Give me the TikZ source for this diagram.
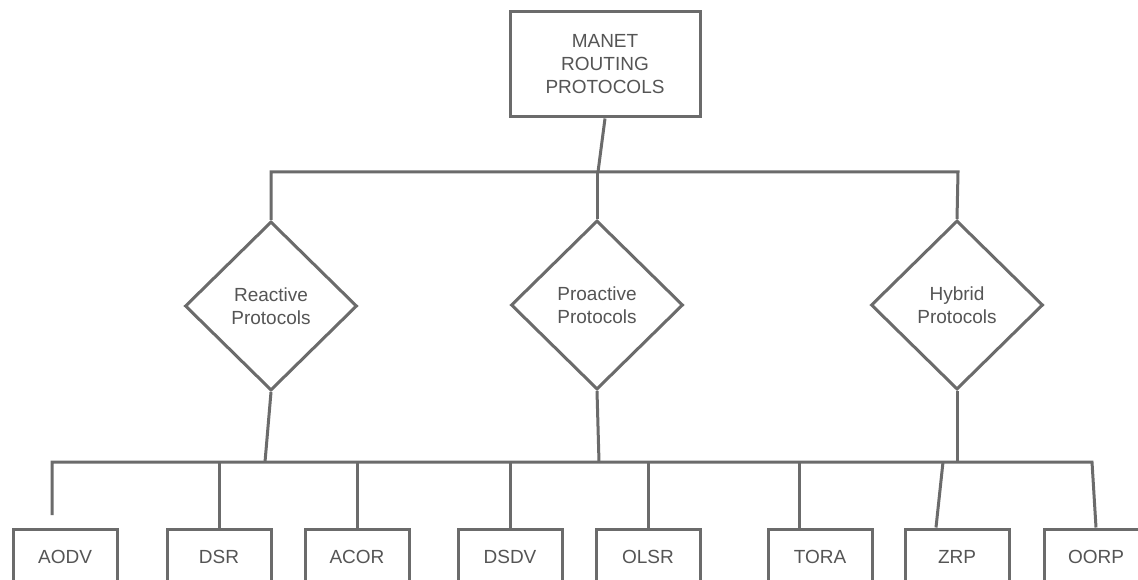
\documentclass[tikz,border=0pt]{standalone}
\usepackage{fontspec}
\setmainfont{Liberation Sans}
\usetikzlibrary{shapes.geometric}
\definecolor{ln}{HTML}{6B6B6B}
\definecolor{tx}{HTML}{555555}
\begin{document}
\begin{tikzpicture}[x=1pt,y=-1pt,
  lbl/.style={font=\fontsize{19}{23}\selectfont, text=tx, align=center},
  boxnode/.style={draw=ln, line width=3pt, fill=white, lbl, inner sep=0pt, minimum width=104pt, minimum height=56pt},
  diam/.style={diamond, draw=ln, line width=3pt, fill=white, lbl, inner sep=0pt, minimum width=172pt, minimum height=169pt},
  conn/.style={draw=ln, line width=3pt, line join=miter}]
\fill[white] (0,0) rectangle (1138,580);
\useasboundingbox (0,0) rectangle (1138,580);
\clip (0,0) rectangle (1138,580);

% nodes
\node[boxnode, minimum width=190pt, minimum height=105pt] (root) at (605,64.5) {MANET\\ROUTING\\PROTOCOLS};
\node[diam] (react) at (271,306) {Reactive\\Protocols};
\node[diam] (pro) at (597,305) {Proactive\\Protocols};
\node[diam] (hyb) at (957,305) {Hybrid\\Protocols};

\node[boxnode] (aodv) at (65,557) {AODV};
\node[boxnode] (dsr) at (219,557) {DSR};
\node[boxnode] (acor) at (357,557) {ACOR};
\node[boxnode] (dsdv) at (510,557) {DSDV};
\node[boxnode] (olsr) at (648,557) {OLSR};
\node[boxnode] (tora) at (820,557) {TORA};
\node[boxnode] (zrp) at (957,557) {ZRP};
\node[boxnode] (oorp) at (1096,557) {OORP};

% upper connectors
\coordinate (tb) at (598,172);
\coordinate (tl) at (271,172);
\coordinate (tr) at (958,172);
\draw[conn] (root.south) -- (tb);
\draw[conn] (react.north) -- (tl) -- (tr) -- (hyb.north);
\draw[conn] (pro.north) -- (pro.north |- tb);

% lower connectors
\coordinate (bl) at (52,462);
\coordinate (br) at (1092,462);
\coordinate (aodvend) at (52,515);
\coordinate (rb) at (265,462);
\coordinate (pb) at (599,462);
\coordinate (tt) at (799,462);
\coordinate (zt) at (943,462);
\draw[conn] (aodvend) -- (bl) -- (br) -- (oorp.north);
\draw[conn] (react.south) -- (rb);
\draw[conn] (pro.south) -- (pb);
\draw[conn] (hyb.south) -- (hyb.south |- bl);
\draw[conn] (dsr.north) -- (dsr.north |- bl);
\draw[conn] (acor.north) -- (acor.north |- bl);
\draw[conn] (dsdv.north) -- (dsdv.north |- bl);
\draw[conn] (olsr.north) -- (olsr.north |- bl);
\draw[conn] (tt) -- (tt |- tora.north);
\draw[conn] (zt) -- ([xshift=-21pt]zrp.north);
\end{tikzpicture}
\end{document}
